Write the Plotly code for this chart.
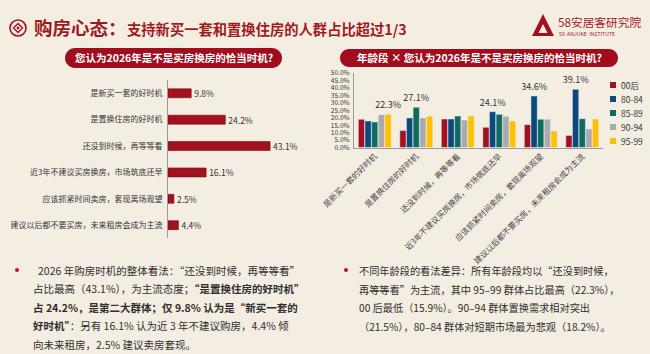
import plotly.graph_objects as go

W, H = 650, 354
def fx(x): return x / W
def fy(y): return 1 - y / H

# ---------------- data ----------------
answers = ["是新买一套的好时机", "是置换住房的好时机", "还没到时候，再等等看",
           "近3年不建议买房换房，市场筑底还早", "应该抓紧时间卖房，套现离场观望",
           "建议以后都不要买房，未来租房会成为主流"]
overall = [9.8, 24.2, 43.1, 16.1, 2.5, 4.4]

age_groups = ["00后", "80-84", "85-89", "90-94", "95-99"]
age_colors = ["#a3111f", "#0c4a7e", "#0e6b5f", "#ababab", "#ffc000"]
pct_00 = [19.0, 11.4, 19.2, 13.6, 15.4, 8.2]
pct_80_84 = [17.9, 19.9, 19.2, 24.1, 34.6, 39.1]
pct_85_89 = [17.2, 27.1, 21.2, 22.3, 19.0, 19.4]
pct_90_94 = [22.1, 19.9, 18.5, 21.0, 19.0, 12.5]
pct_95_99 = [22.3, 21.0, 21.2, 17.9, 11.1, 19.2]
series = [pct_00, pct_80_84, pct_85_89, pct_90_94, pct_95_99]
# which series carries the value label in each answer group (None = no label)
label_series_idx = [4, 2, None, 1, 1, 1]
y_ticks = [0, 5, 10, 15, 20, 25, 30, 35, 40, 45, 50]

RED = "#a3111f"
BG = "#f4eee2"
TXT = "#2e2e2e"
FONT = "Noto Sans CJK SC"

fig = go.Figure()
fig.add_trace(go.Bar(
    x=overall, y=answers, orientation="h", width=0.34,
    marker=dict(color=RED, line=dict(color="#7a0a14", width=0.6)),
    text=[f"{v:.1f}%" for v in overall], textposition="outside",
    textfont=dict(size=8.5, color="#333"), cliponaxis=False, constraintext="none",
    xaxis="x", yaxis="y", showlegend=False, hoverinfo="skip"))

for i, (name, vals, col) in enumerate(zip(age_groups, series, age_colors)):
    txt = [f"{v:.1f}%" if label_series_idx[j] == i else "" for j, v in enumerate(vals)]
    fig.add_trace(go.Bar(
        x=answers, y=vals, name=name, marker=dict(color=col),
        text=txt, textposition="outside", textfont=dict(size=9, color="#333"),
        cliponaxis=False, constraintext="none",
        xaxis="x2", yaxis="y2", showlegend=False, hoverinfo="skip"))

fig.update_layout(
    width=W, height=H, margin=dict(l=0, r=0, t=0, b=0, autoexpand=False),
    paper_bgcolor=BG, plot_bgcolor="rgba(0,0,0,0)",
    font=dict(family=FONT, color="#333"),
    barmode="group", bargap=0.2, bargroupgap=0.05,
    xaxis=dict(domain=[fx(168), fx(330)], range=[0, 68.4], visible=False, anchor="y",
               automargin=False),
    yaxis=dict(domain=[fy(238.4), fy(80.1)], autorange="reversed", anchor="x",
               showline=True, linecolor="#9a9a9a", linewidth=1, ticks="",
               showgrid=False, zeroline=False, tickfont=dict(size=8, color="#333"),
               ticklabelstandoff=3, automargin=False),
    xaxis2=dict(domain=[fx(354), fx(603)], anchor="y2", showline=True,
                linecolor="#9a9a9a", tickangle=-45, ticks="", showgrid=False,
                tickfont=dict(size=8, color="#444"), automargin=False),
    yaxis2=dict(domain=[fy(147.6), fy(73.1)], anchor="x2", range=[0, 50],
                tickvals=y_ticks, ticktext=[f"{t:.1f}%" for t in y_ticks],
                showline=True, linecolor="#9a9a9a", showgrid=False, zeroline=False,
                ticks="", tickfont=dict(size=6.6, color="#333"), automargin=False,
                ticklabelstandoff=2),
)

shapes = []
ann = []

def pill(x0, y0, x1, y1, color):
    r = (y1 - y0) / 2
    k = r * 0.55
    pts = (f"M{fx(x0 + r)},{fy(y0)} L{fx(x1 - r)},{fy(y0)} "
           f"C{fx(x1 - r + k)},{fy(y0)} {fx(x1)},{fy(y0 + r - k)} {fx(x1)},{fy(y0 + r)} "
           f"C{fx(x1)},{fy(y0 + r + k)} {fx(x1 - r + k)},{fy(y1)} {fx(x1 - r)},{fy(y1)} "
           f"L{fx(x0 + r)},{fy(y1)} "
           f"C{fx(x0 + r - k)},{fy(y1)} {fx(x0)},{fy(y0 + r + k)} {fx(x0)},{fy(y0 + r)} "
           f"C{fx(x0)},{fy(y0 + r - k)} {fx(x0 + r - k)},{fy(y0)} {fx(x0 + r)},{fy(y0)} Z")
    return dict(type="path", xref="paper", yref="paper", path=pts,
                fillcolor=color, line=dict(width=0), layer="below")

# header pills
shapes.append(pill(65, 48, 282, 68, "#a20d1d"))
shapes.append(pill(340, 49, 618, 67, "#a20d1d"))
ann.append(dict(x=fx(173.5), y=fy(58), xanchor="center",
                text="<b>您认为2026年是不是买房换房的恰当时机?</b>",
                font=dict(size=10.5, color="white")))
ann.append(dict(x=fx(479), y=fy(58), xanchor="center",
                text="<b>年龄段 × 您认为2026年是不是买房换房的恰当时机?</b>",
                font=dict(size=10.5, color="white")))

# title icon
shapes.append(dict(type="circle", xref="paper", yref="paper",
                   x0=fx(10), x1=fx(26), y0=fy(36), y1=fy(20),
                   line=dict(color=RED, width=1.6)))
shapes.append(dict(type="path", xref="paper", yref="paper",
                   path=f"M{fx(18)},{fy(23.5)} L{fx(22.5)},{fy(28)} L{fx(18)},{fy(32.5)} L{fx(13.5)},{fy(28)} Z",
                   line=dict(color=RED, width=1.4)))
shapes.append(dict(type="circle", xref="paper", yref="paper",
                   x0=fx(16.6), x1=fx(19.4), y0=fy(29.4), y1=fy(26.6),
                   fillcolor=RED, line=dict(width=0)))
ann.append(dict(x=fx(32), y=fy(27), xanchor="left", text="<b>购房心态：</b>",
                font=dict(size=18.5, color="#9c1a1f")))
ann.append(dict(x=fx(125), y=fy(28), xanchor="left", text="<b>支持新买一套和置换住房的人群占比超过1/3</b>",
                font=dict(size=14.3, color="#a31a1f")))

# logo
shapes.append(dict(type="path", xref="paper", yref="paper",
                   path=f"M{fx(532)},{fy(36)} L{fx(543)},{fy(14)} L{fx(554)},{fy(36)} Z",
                   fillcolor=RED, line=dict(width=0)))
shapes.append(dict(type="path", xref="paper", yref="paper",
                   path=f"M{fx(538.5)},{fy(33)} L{fx(543)},{fy(24)} L{fx(547.5)},{fy(33)} Z",
                   fillcolor=BG, line=dict(width=0)))
ann.append(dict(x=fx(556), y=fy(22), xanchor="left", text="58安居客研究院",
                font=dict(size=11.7, color="#a31a1f")))
ann.append(dict(x=fx(557), y=fy(33.5), xanchor="left", text="58  ANJUKE  INSTITUTE",
                font=dict(size=5.2, color="#a31a1f")))

# manual legend
for i, (name, col) in enumerate(zip(age_groups, age_colors)):
    yy = 85 + 14 * i
    shapes.append(dict(type="rect", xref="paper", yref="paper",
                       x0=fx(610), x1=fx(616), y0=fy(yy + 3), y1=fy(yy - 3),
                       fillcolor=col, line=dict(width=0)))
    ann.append(dict(x=fx(619), y=fy(yy), xanchor="left", text=name,
                    font=dict(size=8.5, color="#333")))

# bottom text
left_lines = [
    "2026 年购房时机的整体看法：“还没到时候，再等等看”",
    "占比最高（43.1%），为主流态度；<b>“是置换住房的好时机”</b>",
    "<b>占 24.2%，是第二大群体；仅 9.8% 认为是“新买一套的</b>",
    "<b>好时机”</b>：另有 16.1% 认为近 3 年不建议购房，4.4% 倾",
    "向未来租房，2.5% 建议卖房套现。",
]
left_x = [36, 31, 31, 31, 31]
for k, line in enumerate(left_lines):
    ann.append(dict(x=fx(left_x[k]), y=fy(270 + 18.5 * k), xanchor="left", text=line,
                    font=dict(size=10.5, color=TXT)))
right_lines = [
    "不同年龄段的看法差异：所有年龄段均以“还没到时候，",
    "再等等看”为主流，其中 95–99 群体占比最高（22.3%），",
    "00 后最低（15.9%）。90–94 群体置换需求相对突出",
    "（21.5%），80–84 群体对短期市场最为悲观（18.2%）。",
]
for k, line in enumerate(right_lines):
    ann.append(dict(x=fx(357), y=fy(270.5 + 18.5 * k), xanchor="left", text=line,
                    font=dict(size=10.2, color=TXT)))
for bx in (17, 346):
    shapes.append(dict(type="circle", xref="paper", yref="paper",
                       x0=fx(bx - 2), x1=fx(bx + 2), y0=fy(272), y1=fy(268),
                       fillcolor="#c0101e", line=dict(width=0)))

for a in ann:
    a.setdefault("xref", "paper")
    a.setdefault("yref", "paper")
    a.setdefault("showarrow", False)
    a.setdefault("yanchor", "middle")
fig.update_layout(shapes=shapes, annotations=ann)

fig.write_html("out.html")
